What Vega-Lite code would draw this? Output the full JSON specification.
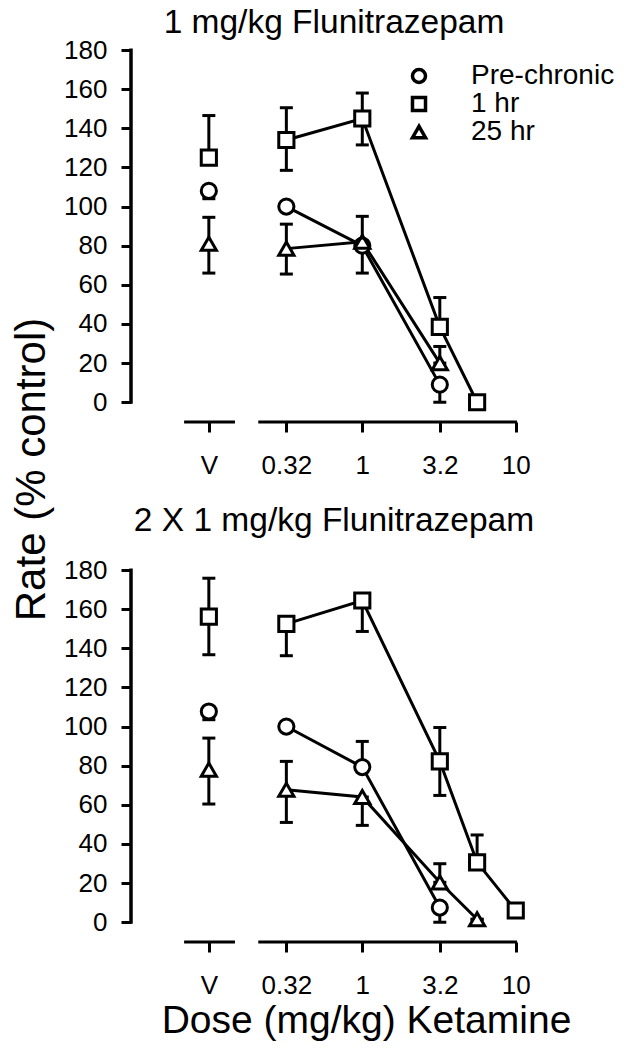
{
  "$schema": "https://vega.github.io/schema/vega-lite/v6.json",
  "padding": {"left": 10, "top": 5, "right": 5, "bottom": 5},
  "background": "white",
  "bounds": "flush",
  "spacing": 148,
  "config": {
    "font": "Liberation Sans",
    "view": {"stroke": null},
    "axis": {"grid": false, "domain": false, "tickColor": "black", "labelColor": "black", "titleColor": "black", "labelFont": "Liberation Sans", "titleFont": "Liberation Sans", "titleFontWeight": "normal"},
    "title": {"font": "Liberation Sans", "fontWeight": "normal", "color": "black", "fontSize": 33.5}
  },
  "datasets": {
    "top": [
      {"series": "Pre-chronic", "dose": "V", "x": 0.1, "y": 108, "lo": 104, "hi": 108},
      {"series": "Pre-chronic", "dose": "K", "x": 0.32, "y": 100, "lo": 100, "hi": 100},
      {"series": "Pre-chronic", "dose": "K", "x": 1, "y": 80, "lo": 80, "hi": 80},
      {"series": "Pre-chronic", "dose": "K", "x": 3.2, "y": 9, "lo": 0, "hi": 9},
      {"series": "1 hr", "dose": "V", "x": 0.1, "y": 125, "lo": 125, "hi": 146.5},
      {"series": "1 hr", "dose": "K", "x": 0.32, "y": 134, "lo": 118.5, "hi": 150.5},
      {"series": "1 hr", "dose": "K", "x": 1, "y": 145, "lo": 131.5, "hi": 158},
      {"series": "1 hr", "dose": "K", "x": 3.2, "y": 38.5, "lo": 38.5, "hi": 53.5},
      {"series": "1 hr", "dose": "K", "x": 5.6, "y": 0, "lo": 0, "hi": 0},
      {"series": "25 hr", "dose": "V", "x": 0.1, "y": 81, "lo": 66, "hi": 94.5},
      {"series": "25 hr", "dose": "K", "x": 0.32, "y": 78.5, "lo": 65.5, "hi": 91},
      {"series": "25 hr", "dose": "K", "x": 1, "y": 82, "lo": 66, "hi": 95},
      {"series": "25 hr", "dose": "K", "x": 3.2, "y": 20, "lo": 20, "hi": 28.5}
    ],
    "bottom": [
      {"series": "Pre-chronic", "dose": "V", "x": 0.1, "y": 107.7, "lo": 103.5, "hi": 107.7},
      {"series": "Pre-chronic", "dose": "K", "x": 0.32, "y": 100, "lo": 100, "hi": 100},
      {"series": "Pre-chronic", "dose": "K", "x": 1, "y": 79.3, "lo": 79.3, "hi": 92.4},
      {"series": "Pre-chronic", "dose": "K", "x": 3.2, "y": 7.5, "lo": 0, "hi": 7.5},
      {"series": "1 hr", "dose": "V", "x": 0.1, "y": 156.2, "lo": 136.7, "hi": 175.8},
      {"series": "1 hr", "dose": "K", "x": 0.32, "y": 152.5, "lo": 136.2, "hi": 152.5},
      {"series": "1 hr", "dose": "K", "x": 1, "y": 164.4, "lo": 148.6, "hi": 164.4},
      {"series": "1 hr", "dose": "K", "x": 3.2, "y": 82.2, "lo": 64.8, "hi": 99.5},
      {"series": "1 hr", "dose": "K", "x": 5.6, "y": 30.6, "lo": 30.6, "hi": 44.6},
      {"series": "1 hr", "dose": "K", "x": 10, "y": 6, "lo": 6, "hi": 6},
      {"series": "25 hr", "dose": "V", "x": 0.1, "y": 78, "lo": 60.4, "hi": 94.1},
      {"series": "25 hr", "dose": "K", "x": 0.32, "y": 67.7, "lo": 51, "hi": 82.2},
      {"series": "25 hr", "dose": "K", "x": 1, "y": 64, "lo": 49.5, "hi": 64},
      {"series": "25 hr", "dose": "K", "x": 3.2, "y": 20.4, "lo": 20.4, "hi": 29.9},
      {"series": "25 hr", "dose": "K", "x": 5.6, "y": 1.5, "lo": 1.5, "hi": 1.5}
    ],
    "xaxis": [
      {"x1": 0.069, "x2": 0.148, "y": -10.1},
      {"x1": 0.21, "x2": 10.2, "y": -10.1}
    ],
    "yaxis": [
      {"x": 0.0311, "y1": -0.8, "y2": 180.8}
    ]
  },
  "resolve": {"scale": {"shape": "independent"}, "legend": {"shape": "independent"}},
  "vconcat": [
    {
      "width": 388,
      "height": 372,
      "title": {"text": "1 mg/kg Flunitrazepam", "anchor": "middle", "dx": 9, "offset": -29, "baseline": "alphabetic"},
      "resolve": {"scale": {"shape": "independent"}, "legend": {"shape": "independent"}},
      "layer": [
        {
          "data": {"name": "top"},
          "transform": [{"filter": "datum.dose != 'V'"}],
          "mark": {"type": "line", "color": "black", "strokeWidth": 3},
          "encoding": {
            "x": {"field": "x", "type": "quantitative", "scale": {"type": "log", "domain": [0.0311, 10.5], "nice": false},
              "axis": {"values": [0.1, 0.32, 1, 3.2, 10], "format": "~g", "labelExpr": "datum.value < 0.2 ? 'V' : datum.label", "tickSize": 10, "tickWidth": 3, "labelPadding": 20, "labelFontSize": 26, "title": null}},
            "y": {"field": "y", "type": "quantitative", "scale": {"domain": [-10.1, 180], "nice": false, "zero": false},
              "axis": {"values": [0, 20, 40, 60, 80, 100, 120, 140, 160, 180], "tickSize": 10, "tickWidth": 3, "labelPadding": 14, "labelFontSize": 26,
                "title": "Rate (% control)", "titleFontSize": 42, "titleX": -87, "titleY": 419, "titleAlign": "center", "titleBaseline": "alphabetic", "titleAngle": 270}},
            "detail": {"field": "series"}
          }
        },
        {
          "data": {"name": "top"},
          "mark": {"type": "rule", "color": "black", "strokeWidth": 3},
          "encoding": {
            "x": {"field": "x", "type": "quantitative"},
            "y": {"field": "lo", "type": "quantitative"},
            "y2": {"field": "hi"}
          }
        },
        {
          "data": {"name": "top"},
          "mark": {"type": "tick", "orient": "horizontal", "color": "black", "size": 13, "thickness": 3, "opacity": 1},
          "encoding": {
            "x": {"field": "x", "type": "quantitative"},
            "y": {"field": "hi", "type": "quantitative"}
          }
        },
        {
          "data": {"name": "top"},
          "mark": {"type": "tick", "orient": "horizontal", "color": "black", "size": 13, "thickness": 3, "opacity": 1},
          "encoding": {
            "x": {"field": "x", "type": "quantitative"},
            "y": {"field": "lo", "type": "quantitative"}
          }
        },
        {
          "data": {"name": "top"},
          "mark": {"type": "point", "filled": true, "color": "white", "opacity": 1, "size": 230},
          "encoding": {
            "x": {"field": "x", "type": "quantitative"},
            "y": {"field": "y", "type": "quantitative"},
            "shape": {"field": "series", "type": "nominal",
              "scale": {"domain": ["Pre-chronic", "1 hr", "25 hr"], "range": ["circle", "square", "triangle-up"]},
              "legend": null}
          }
        },
        {
          "data": {"name": "top"},
          "mark": {"type": "point", "filled": false, "color": "black", "strokeWidth": 3, "opacity": 1, "size": 230},
          "encoding": {
            "x": {"field": "x", "type": "quantitative"},
            "y": {"field": "y", "type": "quantitative"},
            "shape": {"field": "series", "type": "nominal",
              "scale": {"domain": ["Pre-chronic", "1 hr", "25 hr"], "range": ["circle", "square", "triangle-up"]},
              "legend": {"orient": "none", "legendX": 274, "legendY": 12, "title": null, "labelFontSize": 28, "labelFont": "Liberation Sans", "labelColor": "black",
                "symbolSize": 170, "symbolStrokeWidth": 3.5, "labelOffset": 38, "rowPadding": -1, "padding": 0,
                "encode": {"symbols": {"update": {"strokeWidth": {"value": 3.5}}}}}}
          }
        },
        {
          "data": {"name": "xaxis"},
          "mark": {"type": "rule", "color": "black", "strokeWidth": 3},
          "encoding": {
            "x": {"field": "x1", "type": "quantitative"},
            "x2": {"field": "x2"},
            "y": {"field": "y", "type": "quantitative"}
          }
        },
        {
          "data": {"name": "yaxis"},
          "mark": {"type": "rule", "color": "black", "strokeWidth": 3.5},
          "encoding": {
            "x": {"field": "x", "type": "quantitative"},
            "y": {"field": "y1", "type": "quantitative"},
            "y2": {"field": "y2"}
          }
        }
      ]
    },
    {
      "width": 388,
      "height": 372,
      "title": {"text": "2 X 1 mg/kg Flunitrazepam", "anchor": "middle", "dx": 9, "offset": -7, "baseline": "alphabetic"},
      "layer": [
        {
          "data": {"name": "bottom"},
          "transform": [{"filter": "datum.dose != 'V'"}],
          "mark": {"type": "line", "color": "black", "strokeWidth": 3},
          "encoding": {
            "x": {"field": "x", "type": "quantitative", "scale": {"type": "log", "domain": [0.0311, 10.5], "nice": false},
              "axis": {"values": [0.1, 0.32, 1, 3.2, 10], "format": "~g", "labelExpr": "datum.value < 0.2 ? 'V' : datum.label", "tickSize": 10, "tickWidth": 3, "labelPadding": 20, "labelFontSize": 26,
                "title": "Dose (mg/kg) Ketamine", "titleFontSize": 39, "titleX": 235, "titleY": 90, "titleAlign": "center", "titleBaseline": "alphabetic"}},
            "y": {"field": "y", "type": "quantitative", "scale": {"domain": [-10.1, 180], "nice": false, "zero": false},
              "axis": {"values": [0, 20, 40, 60, 80, 100, 120, 140, 160, 180], "tickSize": 10, "tickWidth": 3, "labelPadding": 14, "labelFontSize": 26, "title": null}},
            "detail": {"field": "series"}
          }
        },
        {
          "data": {"name": "bottom"},
          "mark": {"type": "rule", "color": "black", "strokeWidth": 3},
          "encoding": {
            "x": {"field": "x", "type": "quantitative"},
            "y": {"field": "lo", "type": "quantitative"},
            "y2": {"field": "hi"}
          }
        },
        {
          "data": {"name": "bottom"},
          "mark": {"type": "tick", "orient": "horizontal", "color": "black", "size": 13, "thickness": 3, "opacity": 1},
          "encoding": {
            "x": {"field": "x", "type": "quantitative"},
            "y": {"field": "hi", "type": "quantitative"}
          }
        },
        {
          "data": {"name": "bottom"},
          "mark": {"type": "tick", "orient": "horizontal", "color": "black", "size": 13, "thickness": 3, "opacity": 1},
          "encoding": {
            "x": {"field": "x", "type": "quantitative"},
            "y": {"field": "lo", "type": "quantitative"}
          }
        },
        {
          "data": {"name": "bottom"},
          "mark": {"type": "point", "filled": true, "color": "white", "opacity": 1, "size": 230},
          "encoding": {
            "x": {"field": "x", "type": "quantitative"},
            "y": {"field": "y", "type": "quantitative"},
            "shape": {"field": "series", "type": "nominal",
              "scale": {"domain": ["Pre-chronic", "1 hr", "25 hr"], "range": ["circle", "square", "triangle-up"]},
              "legend": null}
          }
        },
        {
          "data": {"name": "bottom"},
          "mark": {"type": "point", "filled": false, "color": "black", "strokeWidth": 3, "opacity": 1, "size": 230},
          "encoding": {
            "x": {"field": "x", "type": "quantitative"},
            "y": {"field": "y", "type": "quantitative"},
            "shape": {"field": "series", "type": "nominal",
              "scale": {"domain": ["Pre-chronic", "1 hr", "25 hr"], "range": ["circle", "square", "triangle-up"]},
              "legend": null}
          }
        },
        {
          "data": {"name": "xaxis"},
          "mark": {"type": "rule", "color": "black", "strokeWidth": 3},
          "encoding": {
            "x": {"field": "x1", "type": "quantitative"},
            "x2": {"field": "x2"},
            "y": {"field": "y", "type": "quantitative"}
          }
        },
        {
          "data": {"name": "yaxis"},
          "mark": {"type": "rule", "color": "black", "strokeWidth": 3.5},
          "encoding": {
            "x": {"field": "x", "type": "quantitative"},
            "y": {"field": "y1", "type": "quantitative"},
            "y2": {"field": "y2"}
          }
        }
      ]
    }
  ]
}
